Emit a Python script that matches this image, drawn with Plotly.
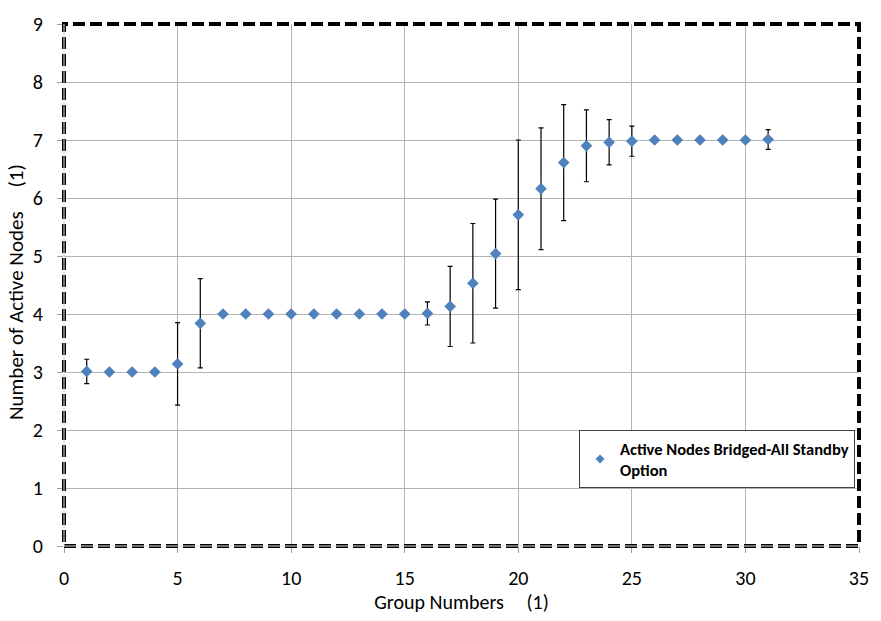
import plotly.graph_objects as go

groups = list(range(1, 32))
active_nodes = [3.01, 3.0, 3.0, 3.0, 3.14, 3.84, 4.0, 4.0, 4.0, 4.0,
                4.0, 4.0, 4.0, 4.0, 4.0, 4.01, 4.13, 4.53, 5.04, 5.71,
                6.16, 6.61, 6.90, 6.96, 6.98, 7.0, 7.0, 7.0, 7.0, 7.0, 7.01]
error_vals = [0.21, 0.0, 0.0, 0.0, 0.71, 0.77, 0.0, 0.0, 0.0, 0.0,
              0.0, 0.0, 0.0, 0.0, 0.0, 0.20, 0.69, 1.03, 0.94, 1.29,
              1.05, 1.0, 0.62, 0.39, 0.26, 0.0, 0.0, 0.0, 0.0, 0.0, 0.17]
series_name = "Active Nodes Bridged-All Standby<br>Option"
x_ticks = [0, 5, 10, 15, 20, 25, 30, 35]
y_ticks = [0, 1, 2, 3, 4, 5, 6, 7, 8, 9]

FONT = "Carlito, Calibri, Lato"
COLOR = "#4F81BD"
SP = "&nbsp;"

fig = go.Figure()
fig.add_trace(go.Scatter(
    x=groups, y=active_nodes, mode="markers", name=series_name,
    showlegend=False,
    marker=dict(symbol="diamond", size=9, color=COLOR),
    error_y=dict(type="data", array=error_vals, symmetric=True,
                 color="black", thickness=1.2, width=2.5),
))
# legend entry with the small legend symbol
fig.add_trace(go.Scatter(
    x=[None], y=[None], mode="markers", name=series_name,
    marker=dict(symbol="diamond", size=7, color=COLOR),
))

fig.update_layout(
    width=881, height=621,
    margin=dict(l=64, r=14, t=19, b=75),
    paper_bgcolor="white", plot_bgcolor="white",
    font=dict(family=FONT, size=20, color="black"),
    showlegend=True,
    legend=dict(
        x=0.995, y=0.222, xanchor="right", yanchor="top",
        bgcolor="white", bordercolor="#404040", borderwidth=1,
        font=dict(family=FONT, size=16.5, color="black", weight="bold"),
        itemwidth=30, tracegroupgap=0,
    ),
    xaxis=dict(
        range=[0, 35], tickvals=x_ticks, showgrid=True,
        gridcolor="#B3B3B3", gridwidth=1, zeroline=False,
        ticks="outside", ticklen=6, tickcolor="#A0A0A0",
        ticklabelstandoff=8,
        title=dict(text="Group Numbers" + SP * 5 + "(1)",
                   font=dict(size=20), standoff=2),
        showline=False,
    ),
    yaxis=dict(
        range=[0, 9], tickvals=y_ticks, showgrid=True,
        gridcolor="#B3B3B3", gridwidth=1, zeroline=False,
        ticks="outside", ticklen=6, tickcolor="#A0A0A0",
        ticklabelstandoff=10,
        title=dict(text="Number of Active Nodes" + SP * 5 + "(1)" + SP * 3,
                   font=dict(size=21), standoff=3),
        showline=False,
    ),
)

fig.add_shape(type="rect", xref="paper", yref="paper", x0=0, x1=1, y0=0, y1=1,
              line=dict(color="black", width=4, dash="12px,5px"), layer="above")
fig.add_shape(type="line", xref="paper", yref="paper", x0=0, x1=0, y0=0, y1=1,
              line=dict(color="#E0E0E0", width=1), layer="above")
fig.add_shape(type="line", xref="paper", yref="paper", x0=0, x1=1, y0=0, y1=0,
              line=dict(color="#E0E0E0", width=1), layer="above")

fig.write_html("out.html")
